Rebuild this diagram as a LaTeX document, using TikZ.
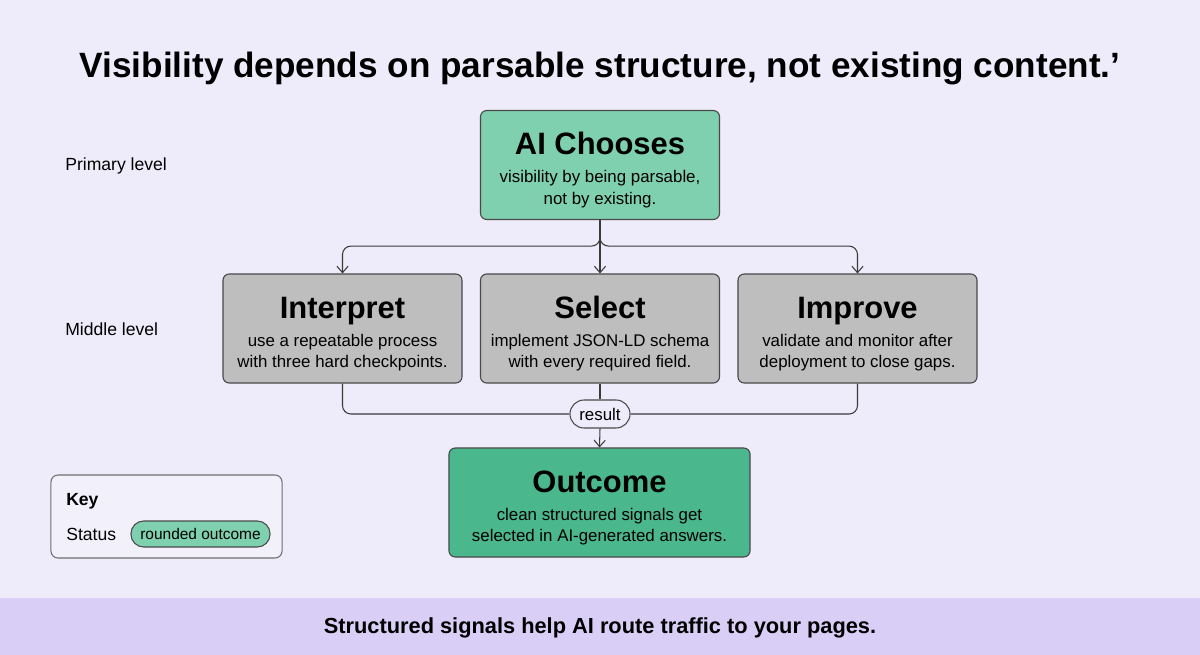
\documentclass[tikz,border=0pt]{standalone}
\usepackage{fontspec}
\setmainfont{Liberation Sans}
\usetikzlibrary{arrows.meta,positioning}
\definecolor{pagebg}{HTML}{EEEBFA}
\definecolor{bandbg}{HTML}{D9CFF6}
\definecolor{choosegreen}{HTML}{7FD0AF}
\definecolor{outgreen}{HTML}{4AB78D}
\definecolor{stepgray}{HTML}{BEBEBE}
\definecolor{edgeline}{HTML}{4A4A4A}
\definecolor{wireline}{HTML}{3A3A3A}
\tikzset{%
    >={Straight Barb[length=1.6mm,width=2.8mm]},
    card/.style={draw=edgeline, line width=0.8pt, rounded corners=4.5pt,
      minimum width=5.975cm, minimum height=2.725cm, inner sep=0pt,
      align=center, font=\fontsize{12}{15}\selectfont},
    wire/.style={draw=wireline, line width=0.75pt},
    sidelabel/.style={anchor=west, inner sep=0pt, font=\fontsize{12.5}{15}\selectfont}
}
\newcommand{\cardtitle}[1]{{\fontsize{22}{26}\selectfont\bfseries\rule{0pt}{23pt}#1}\\[5pt]}

\begin{document}
\begin{tikzpicture}[x=0.025cm,y=-0.025cm]
      \fill[pagebg] (0,0) rectangle (1200,655);
      \fill[bandbg] (0,598) rectangle (1200,655);

      \node[inner sep=0pt, font=\fontsize{25}{30}\selectfont\bfseries] (headline) at (600,68)
        {Visibility depends on parsable structure, not existing content.’};
      \node[inner sep=0pt, font=\fontsize{15.5}{18}\selectfont\bfseries] (footline) at (600,628)
        {Structured signals help AI route traffic to your pages.};

      \node[sidelabel] (primary) at (65,166) {Primary level};
      \node[sidelabel] (middle) at (65,329) {Middle level};

      % boxes
      \node[card, fill=choosegreen] (choose) at (600,165)
        {\cardtitle{AI Chooses}visibility by being parsable,\\not by existing.};
      \node[card, fill=stepgray] (interp) at (342.5,328.5)
        {\cardtitle{Interpret}use a repeatable process\\with three hard checkpoints.};
      \node[card, fill=stepgray] (select) at (600,328.5)
        {\cardtitle{Select}implement JSON-LD schema\\with every required field.};
      \node[card, fill=stepgray] (improve) at (857.5,328.5)
        {\cardtitle{Improve}validate and monitor after\\deployment to close gaps.};
      \node[card, fill=outgreen, minimum width=7.525cm] (outcome) at (599.5,502.5)
        {\cardtitle{Outcome}clean structured signals get\\selected in AI-generated answers.};

      \node[draw=edgeline, fill=pagebg, line width=0.75pt, rounded corners=10pt,
        minimum width=1.5cm, minimum height=0.7cm, inner sep=0pt,
        font=\fontsize{12}{14}\selectfont] (result) at (600,414) {result};

      % connectors
      \draw[wire,->] (choose.south) -- (select.north);
      \draw[wire,->,rounded corners=6pt] (choose.south) -- ++(0,26) -| (interp.north);
      \draw[wire,->,rounded corners=6pt] (choose.south) -- ++(0,26) -| (improve.north);
      \draw[wire] (select.south) -- (result.north);
      \draw[wire,rounded corners=6pt] (interp.south) |- (result.west);
      \draw[wire,rounded corners=6pt] (improve.south) |- (result.east);
      \draw[wire,->] (result.south) -- (outcome.north);

      % key
      \node[draw=edgeline!80, fill=pagebg!75!white, line width=0.75pt, rounded corners=5pt,
        minimum width=5.775cm, minimum height=2.075cm] (keybox) at (166.5,516.5) {};
      \node[sidelabel, font=\fontsize{12.5}{15}\selectfont\bfseries] (keytitle) at (66,501) {Key};
      \node[sidelabel] (status) at (66,534) {Status};
      \node[draw=edgeline, fill=choosegreen, line width=0.75pt, rounded corners=9pt,
        minimum width=3.475cm, minimum height=0.65cm, inner sep=0pt,
        font=\fontsize{11}{13}\selectfont] (statuspill) at (200.5,534) {rounded outcome};
\end{tikzpicture}
\end{document}
